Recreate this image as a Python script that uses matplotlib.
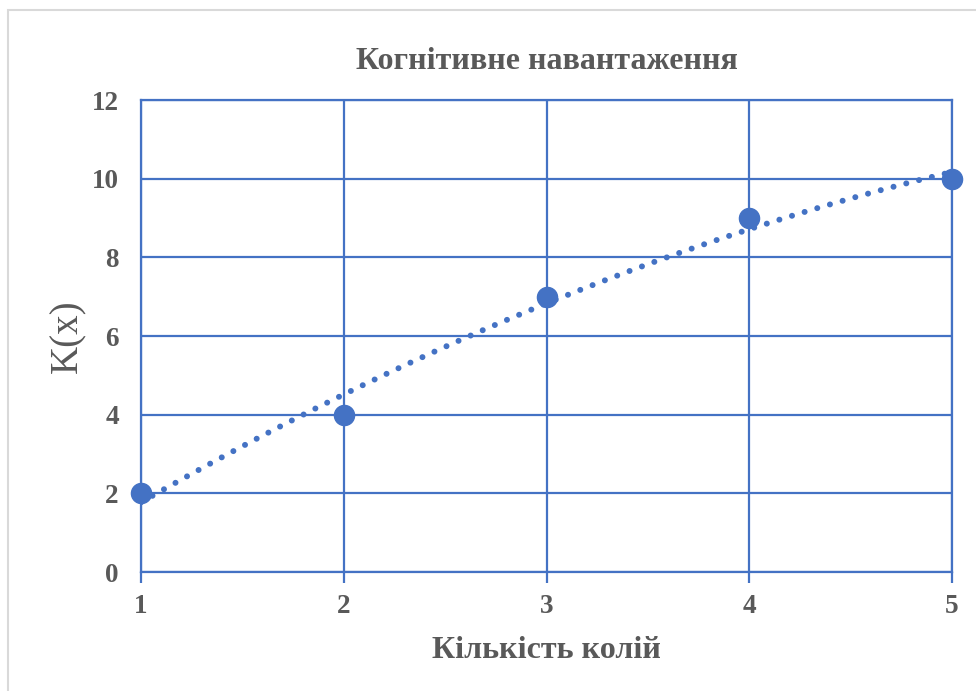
import numpy as np
import matplotlib
matplotlib.use('Agg')
import matplotlib.pyplot as plt
from matplotlib.patches import Rectangle

# Дані
x_vals = [1, 2, 3, 4, 5]
k_vals = [2, 4, 7, 9, 10]
y_ticks = [0, 2, 4, 6, 8, 10, 12]

title = 'Когнітивне навантаження'
x_label = 'Кількість колій'
y_label = 'K(x)'

blue = '#4472C4'
grey = '#595959'

plt.rcParams['font.family'] = ['Liberation Serif', 'DejaVu Serif']

fig = plt.figure(figsize=(9.76, 6.91), dpi=100)
ax = fig.add_axes([141 / 976, 1 - 572 / 691, (952 - 141) / 976, (572 - 100) / 691])

# Рамка діаграми
fig.patches.append(Rectangle((8 / 976, -0.1), 1.2, 1 - 10 / 691 + 0.1,
                             transform=fig.transFigure, fill=False,
                             edgecolor='#D9D9D9', linewidth=1.5))

# Поліноміальна лінія тренду (2-го степеня)
coef = np.polyfit(x_vals, k_vals, 2)
xs = np.linspace(x_vals[0], x_vals[-1], 200)
ax.plot(xs, np.polyval(coef, xs), color=blue, linewidth=4.3,
        linestyle=(0, (0.01, 2.2)), dash_capstyle='round', zorder=3)

ax.scatter(x_vals, k_vals, s=210, color=blue, zorder=4, clip_on=False)

ax.set_xlim(1, 5)
ax.set_ylim(0, 12)
ax.set_xticks(x_vals)
ax.set_yticks(y_ticks)
ax.grid(True, color=blue, linewidth=1.6)
ax.set_axisbelow(True)
for s in ax.spines.values():
    s.set_color(blue)
    s.set_linewidth(1.6)

ax.tick_params(axis='x', direction='out', length=8, width=1.6, color=blue,
               labelsize=19.5, labelcolor=grey, pad=8)
ax.tick_params(axis='y', length=0, labelsize=19.5, labelcolor=grey, pad=16)
for lbl in ax.get_xticklabels() + ax.get_yticklabels():
    lbl.set_fontweight('bold')

ax.set_title(title, fontsize=23, fontweight='bold', color=grey, pad=22)
ax.set_xlabel(x_label, fontsize=23, fontweight='bold', color=grey, labelpad=12)
ax.set_ylabel(y_label, fontsize=28, color=grey, labelpad=4)

fig.savefig('out.png', dpi=100)
